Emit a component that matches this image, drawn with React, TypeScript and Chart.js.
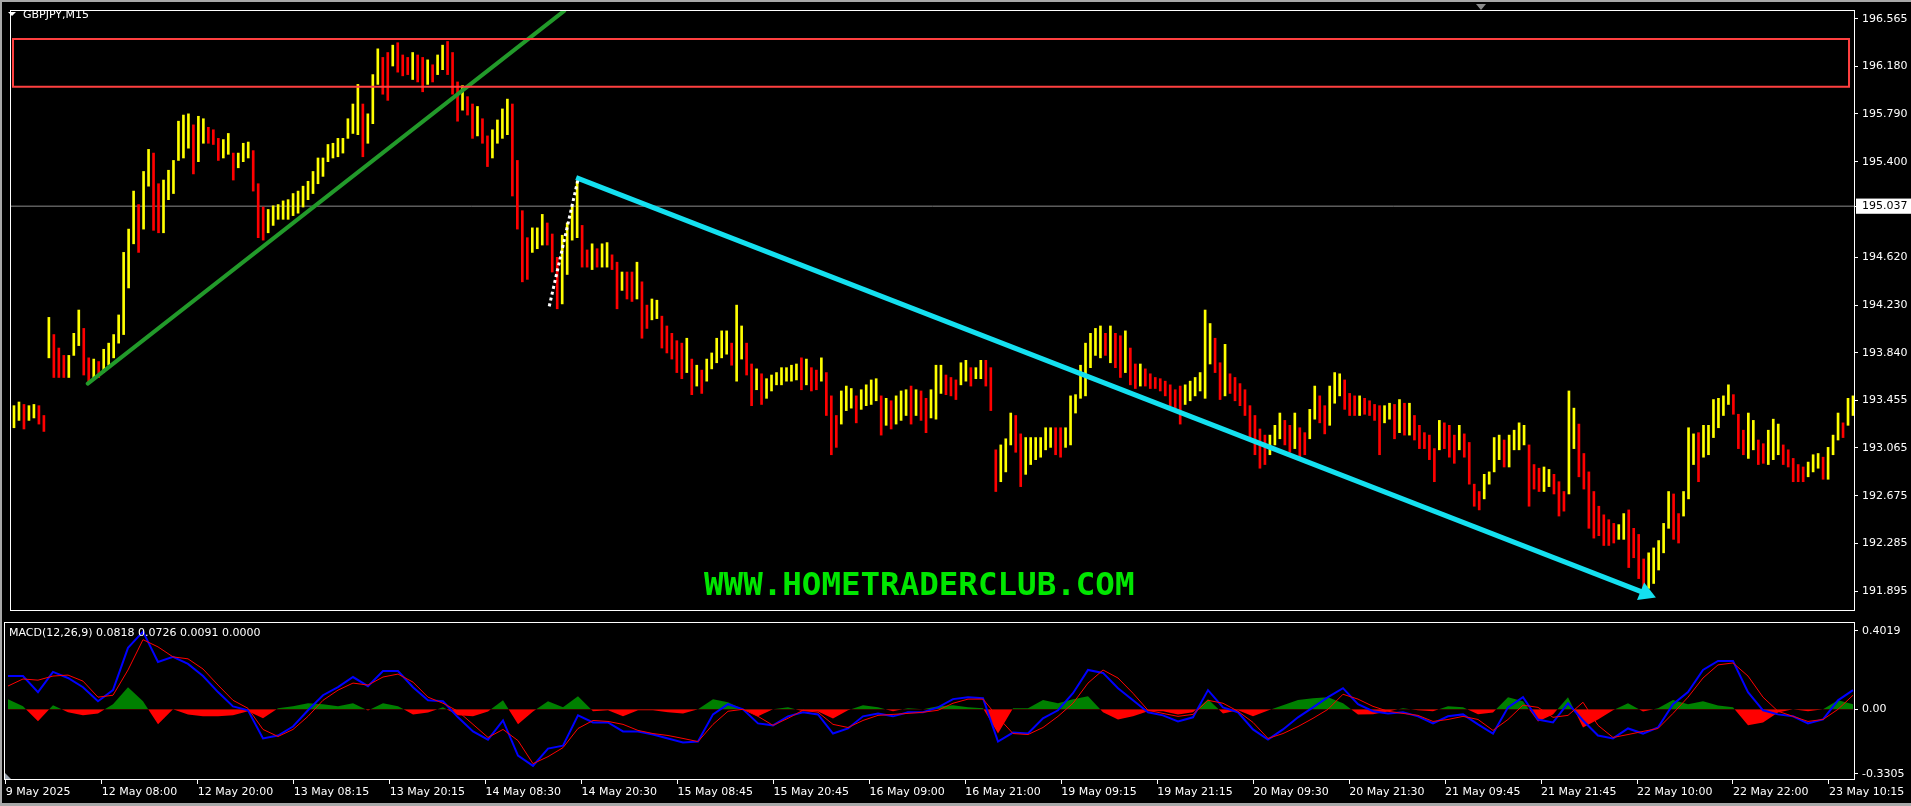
import React, { useEffect, useRef } from "react";
import { Chart, registerables } from "chart.js";

Chart.register(...registerables);

// ---------- price bars (GBPJPY M15), one entry per bar ----------
const barHighs: number[] = [
  193.41, 193.44, 193.42, 193.41, 193.42, 193.41, 193.33, 194.13, 193.99, 193.88,
  193.82, 193.82, 194.0, 194.19, 194.04, 193.8, 193.79, 193.77, 193.87, 193.92,
  193.99, 194.15, 194.66, 194.85, 195.16, 195.05, 195.32, 195.5, 195.47, 195.22,
  195.25, 195.33, 195.41, 195.73, 195.78, 195.79, 195.7, 195.77, 195.75, 195.68,
  195.66, 195.59, 195.58, 195.63, 195.47, 195.47, 195.55, 195.56, 195.49, 195.22,
  195.03, 195.01, 195.04, 195.05, 195.08, 195.09, 195.14, 195.16, 195.2, 195.24,
  195.32, 195.43, 195.43, 195.54, 195.55, 195.59, 195.59, 195.75, 195.87, 196.03,
  195.87, 195.79, 196.11, 196.32, 196.25, 196.29, 196.35, 196.37, 196.27, 196.25,
  196.29, 196.27, 196.25, 196.23, 196.19, 196.27, 196.35, 196.38, 196.29, 196.05,
  196.02, 195.93, 195.87, 195.85, 195.75, 195.61, 195.66, 195.74, 195.83, 195.91,
  195.87, 195.41, 195.0, 194.78, 194.86, 194.86, 194.97, 194.9, 194.81, 194.62,
  194.8, 194.9, 195.04, 195.24, 194.88, 194.68, 194.73, 194.69, 194.73, 194.74,
  194.64, 194.58, 194.5, 194.5, 194.5, 194.58, 194.42, 194.23, 194.28, 194.27,
  194.14, 194.06, 194.0, 193.94, 193.92, 193.96, 193.79, 193.74, 193.7, 193.79,
  193.84, 193.96, 194.02, 194.02, 193.92, 194.23, 194.06, 193.92, 193.75, 193.71,
  193.67, 193.63, 193.66, 193.68, 193.72, 193.72, 193.74, 193.75, 193.8, 193.79,
  193.72, 193.7, 193.8, 193.68, 193.49, 193.33, 193.53, 193.57, 193.55, 193.49,
  193.54, 193.58, 193.62, 193.63, 193.49, 193.47, 193.45, 193.49, 193.53, 193.54,
  193.57, 193.54, 193.53, 193.47, 193.54, 193.74, 193.74, 193.66, 193.64, 193.62,
  193.76, 193.78, 193.72, 193.72, 193.78, 193.78, 193.72, 193.05, 193.09, 193.14,
  193.35, 193.33, 193.18, 193.15, 193.15, 193.15, 193.15, 193.23, 193.23, 193.23,
  193.23, 193.23, 193.49, 193.5, 193.74, 193.92, 194.0, 194.04, 194.06, 194.0,
  194.06, 194.0, 193.98, 194.02, 193.88, 193.75, 193.75, 193.71, 193.67, 193.64,
  193.63, 193.61, 193.58, 193.54, 193.57, 193.58, 193.61, 193.64, 193.68, 194.19,
  194.08, 193.96, 193.76, 193.91, 193.67, 193.64, 193.59, 193.54, 193.41, 193.33,
  193.22, 193.17, 193.17, 193.25, 193.35, 193.29, 193.25, 193.35, 193.23, 193.19,
  193.38, 193.57, 193.49, 193.41, 193.57, 193.68, 193.67, 193.62, 193.51, 193.49,
  193.49, 193.47, 193.45, 193.42, 193.41, 193.41, 193.43, 193.42, 193.46, 193.43,
  193.43, 193.33, 193.25, 193.19, 193.17, 193.06, 193.29, 193.27, 193.25, 193.17,
  193.25, 193.18, 193.11, 192.77, 192.71, 192.85, 192.87, 193.15, 193.17, 193.13,
  193.17, 193.21, 193.27, 193.25, 193.09, 192.93, 192.9, 192.91, 192.89, 192.85,
  192.79, 192.71, 193.53, 193.39, 193.26, 193.02, 192.87, 192.71, 192.59, 192.52,
  192.48, 192.45, 192.44, 192.53, 192.56, 192.41, 192.36, 192.16, 192.21, 192.25,
  192.31, 192.45, 192.71, 192.69, 192.53, 192.71, 193.23, 193.18, 193.19, 193.25,
  193.25, 193.46, 193.47, 193.49, 193.58, 193.5, 193.34, 193.21, 193.35, 193.29,
  193.13, 193.1, 193.21, 193.3, 193.26, 193.09, 193.05, 192.98, 192.93, 192.91,
  192.95, 193.01, 193.02, 192.99, 193.07, 193.17, 193.35, 193.27, 193.47, 193.49,
];

const barLows: number[] = [
  193.23, 193.29, 193.22, 193.29, 193.31, 193.26, 193.2, 193.8, 193.64, 193.64,
  193.64, 193.64, 193.82, 193.9, 193.66, 193.59, 193.63, 193.64, 193.68, 193.74,
  193.8, 193.92, 193.99, 194.37, 194.73, 194.66, 194.85, 195.2, 194.84, 194.82,
  194.82, 195.09, 195.14, 195.41, 195.43, 195.51, 195.3, 195.4, 195.55, 195.55,
  195.54, 195.41, 195.43, 195.46, 195.25, 195.35, 195.4, 195.43, 195.16, 194.78,
  194.76, 194.82, 194.88, 194.93, 194.93, 194.93, 194.96, 194.98, 195.03, 195.09,
  195.14, 195.22, 195.28, 195.4, 195.43, 195.44, 195.47, 195.59, 195.63, 195.62,
  195.44, 195.55, 195.71, 196.03, 195.95, 195.9, 196.18, 196.13, 196.1, 196.11,
  196.07, 196.05, 195.97, 196.03, 196.05, 196.11, 196.15, 196.11, 195.95, 195.73,
  195.82, 195.78, 195.59, 195.61, 195.55, 195.36, 195.43, 195.55, 195.59, 195.62,
  195.12, 194.85, 194.42, 194.44, 194.66, 194.69, 194.72, 194.72, 194.5, 194.2,
  194.24, 194.48, 194.76, 194.78, 194.54, 194.54, 194.52, 194.54, 194.54, 194.54,
  194.52, 194.2, 194.35, 194.28, 194.26, 194.28, 193.96, 194.04, 194.11, 194.12,
  193.88, 193.84, 193.79, 193.68, 193.63, 193.68, 193.5, 193.57, 193.51, 193.61,
  193.71, 193.76, 193.8, 193.83, 193.74, 193.61, 193.79, 193.66, 193.41, 193.54,
  193.42, 193.47, 193.53, 193.58, 193.58, 193.61, 193.61, 193.62, 193.54, 193.58,
  193.53, 193.54, 193.61, 193.33, 193.01, 193.07, 193.26, 193.37, 193.39, 193.27,
  193.38, 193.41, 193.42, 193.45, 193.17, 193.25, 193.22, 193.26, 193.29, 193.33,
  193.26, 193.33, 193.29, 193.19, 193.31, 193.3, 193.51, 193.5, 193.49, 193.46,
  193.58, 193.61, 193.57, 193.63, 193.63, 193.57, 193.37, 192.71, 192.79, 192.87,
  193.09, 193.03, 192.75, 192.85, 192.93, 192.97, 192.99, 193.05, 193.07, 193.01,
  192.99, 193.07, 193.09, 193.35, 193.47, 193.49, 193.72, 193.82, 193.8, 193.82,
  193.76, 193.72, 193.64, 193.68, 193.58, 193.55, 193.57, 193.57, 193.55, 193.55,
  193.53, 193.49, 193.41, 193.38, 193.26, 193.42, 193.45, 193.49, 193.53, 193.47,
  193.75, 193.68, 193.46, 193.49, 193.51, 193.45, 193.41, 193.33, 193.13, 193.01,
  192.9, 192.93, 193.01, 193.09, 193.14, 193.09, 193.03, 193.06, 192.99, 193.01,
  193.14, 193.3, 193.27, 193.18, 193.25, 193.43, 193.49, 193.38, 193.33, 193.33,
  193.33, 193.34, 193.33, 193.29, 193.01, 193.27, 193.3, 193.14, 193.19, 193.17,
  193.17, 193.13, 193.06, 193.06, 192.97, 192.79, 193.05, 193.06, 192.99, 192.94,
  193.05, 192.99, 192.77, 192.59, 192.56, 192.65, 192.77, 192.87, 192.97, 192.91,
  192.91, 193.05, 193.05, 193.09, 192.59, 192.73, 192.71, 192.71, 192.75, 192.69,
  192.51, 192.55, 192.69, 193.06, 192.83, 192.73, 192.41, 192.33, 192.35, 192.27,
  192.27, 192.29, 192.32, 192.32, 192.09, 192.17, 192.0, 191.89, 191.92, 191.96,
  192.07, 192.21, 192.41, 192.32, 192.29, 192.51, 192.65, 192.93, 192.79, 192.99,
  193.01, 193.15, 193.23, 193.33, 193.42, 193.34, 193.06, 193.01, 192.98, 193.05,
  192.93, 192.94, 192.93, 192.97, 193.01, 192.93, 192.91, 192.79, 192.79, 192.79,
  192.83, 192.87, 192.9, 192.81, 192.81, 193.01, 193.13, 193.15, 193.25, 193.33,
];

// ---------- MACD(12,26,9), one sample every macdStep bars ----------
const macdStep = 3;
const macdMain: number[] = [
  0.17, 0.17, 0.088, 0.191, 0.16, 0.113, 0.041, 0.098, 0.314, 0.397,
  0.242, 0.268, 0.232, 0.17, 0.088, 0.015, -0.005, -0.149, -0.134, -0.088,
  -0.005, 0.072, 0.113, 0.165, 0.118, 0.196, 0.196, 0.113, 0.046, 0.041,
  -0.041, -0.113, -0.155, -0.057, -0.237, -0.289, -0.201, -0.186, -0.031, -0.067,
  -0.067, -0.113, -0.113, -0.129, -0.149, -0.17, -0.165, -0.026, 0.026, 0.0,
  -0.072, -0.082, -0.036, -0.015, -0.026, -0.124, -0.098, -0.036, -0.021, -0.036,
  -0.015, -0.015, 0.01, 0.052, 0.062, 0.057, -0.165, -0.119, -0.124, -0.046,
  -0.005, 0.082, 0.201, 0.186, 0.108, 0.046, -0.015, -0.031, -0.062, -0.041,
  0.098, 0.01, -0.015, -0.103, -0.155, -0.103, -0.041, 0.01, 0.062, 0.108,
  0.026, -0.01, -0.021, -0.015, -0.036, -0.072, -0.036, -0.026, -0.077, -0.124,
  0.01, 0.062, -0.052, -0.067, 0.031, -0.057, -0.134, -0.149, -0.098, -0.124,
  -0.093, 0.026, 0.088, 0.201, 0.247, 0.247, 0.088, -0.005, -0.026, -0.036,
  -0.072, -0.052, 0.046, 0.098,
];
const macdSignal: number[] = [
  0.119, 0.155, 0.149, 0.17, 0.175, 0.144, 0.062, 0.072, 0.201, 0.356,
  0.319, 0.268, 0.258, 0.206, 0.124, 0.046, 0.005, -0.103, -0.139, -0.103,
  -0.036, 0.046, 0.098, 0.134, 0.124, 0.165, 0.18, 0.139, 0.062, 0.031,
  -0.01, -0.077, -0.144, -0.103, -0.16, -0.278, -0.242, -0.196, -0.098, -0.057,
  -0.062, -0.077, -0.108, -0.124, -0.134, -0.149, -0.165, -0.077, -0.01, 0.0,
  -0.036, -0.082, -0.046, -0.005, -0.015, -0.077, -0.093, -0.057, -0.031, -0.026,
  -0.021, -0.015, -0.005, 0.031, 0.052, 0.052, -0.041, -0.124, -0.129, -0.093,
  -0.036, 0.031, 0.134, 0.201, 0.16, 0.082, -0.005, -0.021, -0.036, -0.026,
  0.046, 0.031, -0.01, -0.067, -0.149, -0.124, -0.088, -0.046, 0.0, 0.077,
  0.052, 0.015, -0.01, -0.021, -0.031, -0.062, -0.052, -0.036, -0.052, -0.108,
  -0.052, 0.021, 0.01, -0.041, -0.031, 0.036, -0.082, -0.144, -0.129, -0.113,
  -0.098, -0.021, 0.062, 0.16, 0.227, 0.237, 0.17, 0.062, -0.01, -0.036,
  -0.062, -0.052, 0.0, 0.072,
];

// ---------- axes ----------
const priceTicks = [196.565, 196.18, 195.79, 195.4, 195.037, 194.62, 194.23, 193.84, 193.455, 193.065, 192.675, 192.285, 191.895];
const currentPrice = 195.037;
const macdTicks = [0.4019, 0, -0.3305];
const macdTickLabels = ["0.4019", "0.00", "-0.3305"];
const timeLabels = [
  "9 May 2025", "12 May 08:00", "12 May 20:00", "13 May 08:15", "13 May 20:15",
  "14 May 08:30", "14 May 20:30", "15 May 08:45", "15 May 20:45", "16 May 09:00",
  "16 May 21:00", "19 May 09:15", "19 May 21:15", "20 May 09:30", "20 May 21:30",
  "21 May 09:45", "21 May 21:45", "22 May 10:00", "22 May 22:00", "23 May 10:15",
];
const timeTickBars = [
  -0.43, 18.76, 37.95, 57.14, 76.33, 95.52, 114.71, 133.9, 153.09, 172.28,
  191.47, 210.66, 229.85, 249.04, 268.23, 287.42, 306.61, 325.8, 344.99, 364.18,
];

// ---------- drawn objects (bar index, price) ----------
const zoneTop = 196.4;
const zoneBottom = 196.01;
const zoneStart = -0.2;
const zoneEnd = 368.2;
const trendLine = [{ x: 14.8, y: 193.59 }, { x: 110.4, y: 196.63 }];
const arrowLine = [{ x: 112.8, y: 195.27 }, { x: 327.4, y: 191.88 }];
const dottedLine = [{ x: 107.4, y: 194.22 }, { x: 113.2, y: 195.26 }];

const X_MIN = -0.6;
const X_MAX = 369.2;
const FONT = { family: "'DejaVu Sans', sans-serif", size: 11 };

const framePlugin = {
  id: "frame",
  afterDraw(chart: any) {
    const { ctx, chartArea: a } = chart;
    ctx.save();
    ctx.strokeStyle = "#ffffff";
    ctx.lineWidth = 1;
    ctx.strokeRect(a.left - 0.5, a.top - 0.5, a.right - a.left + 1, a.bottom - a.top + 1);
    ctx.restore();
  },
};

export default function App() {
  const mainRef = useRef<HTMLCanvasElement | null>(null);
  const macdRef = useRef<HTMLCanvasElement | null>(null);

  useEffect(() => {
    document.body.style.margin = "0";
    document.body.style.background = "#000";

    const mids = barHighs.map((h, i) => (h + barLows[i]) / 2);
    const barColors = mids.map((m, i) => (i === 0 || m >= mids[i - 1] ? "#ffff00" : "#ff0000"));
    const bars = barHighs.map((h, i) => ({ x: i, y: [barLows[i], h] }));
    const zone = [
      { x: zoneStart, y: zoneTop },
      { x: zoneEnd, y: zoneTop },
      { x: zoneEnd, y: zoneBottom },
      { x: zoneStart, y: zoneBottom },
      { x: zoneStart, y: zoneTop },
    ];
    const bidLine = [{ x: X_MIN, y: currentPrice }, { x: X_MAX, y: currentPrice }];

    const main = new Chart(mainRef.current as HTMLCanvasElement, {
      type: "bar",
      data: {
        datasets: [
          { type: "line", data: zone, borderColor: "#ff4040", borderWidth: 2, pointRadius: 0, order: 0, clip: 0, borderJoinStyle: "miter", borderCapStyle: "square" } as any,
          { type: "line", data: trendLine, borderColor: "#229a2a", borderWidth: 4, pointRadius: 0, order: 0, clip: 0, borderCapStyle: "round" } as any,
          { type: "line", data: dottedLine, borderColor: "#ffffff", borderWidth: 3, borderDash: [3, 3], pointRadius: 0, order: 0, clip: 0 } as any,
          {
            type: "line", data: arrowLine, borderColor: "#14e0f0", borderWidth: 5, order: 0, clip: 0,
            pointRadius: [0, 11], pointStyle: "triangle", pointRotation: [0, 112],
            pointBackgroundColor: "#14e0f0", pointBorderWidth: 0, pointBorderColor: "#14e0f0",
          } as any,
          { type: "bar", data: bars, backgroundColor: barColors, barThickness: 2, borderWidth: 0, order: 1 } as any,
          { type: "line", data: bidLine, borderColor: "#8c8c8c", borderWidth: 1, pointRadius: 0, order: 2, clip: 0 } as any,
        ],
      },
      options: {
        responsive: false,
        animation: false,
        devicePixelRatio: 1,
        events: [],
        layout: { padding: { left: 5, top: 5, right: 0, bottom: 2 } },
        plugins: { legend: { display: false }, tooltip: { enabled: false } },
        scales: {
          x: { type: "linear", min: X_MIN, max: X_MAX, display: false, offset: false },
          y: {
            type: "linear",
            position: "right",
            min: 191.7438,
            max: 196.6286,
            afterBuildTicks: (s: any) => { s.ticks = priceTicks.map((v) => ({ value: v })); },
            afterFit: (s: any) => { s.width = 57; s.paddingTop = 0; s.paddingBottom = 0; },
            grid: { drawOnChartArea: false, drawTicks: true, tickLength: 4, color: "#ffffff" },
            border: { display: false },
            ticks: {
              padding: 4,
              autoSkip: false,
              font: FONT,
              color: (c: any) => (c.tick && c.tick.value === currentPrice ? "#000000" : "#ffffff"),
              showLabelBackdrop: (c: any) => !!(c.tick && c.tick.value === currentPrice),
              backdropColor: "#ffffff",
              backdropPadding: { left: 6, right: 6, top: 1, bottom: 1 },
              callback: (v: any) => Number(v).toFixed(3),
            },
          },
        },
      } as any,
      plugins: [framePlugin],
    });

    const pts = (arr: number[]) => arr.map((v, k) => ({ x: k * macdStep, y: v }));
    const hist = macdMain.map((v, k) => ({ x: k * macdStep, y: v - macdSignal[k] }));

    const macd = new Chart(macdRef.current as HTMLCanvasElement, {
      type: "line",
      data: {
        datasets: [
          { data: pts(macdSignal), borderColor: "#ff0000", borderWidth: 1, pointRadius: 0, order: 0, tension: 0 } as any,
          { data: pts(macdMain), borderColor: "#0000ff", borderWidth: 2, pointRadius: 0, order: 1, tension: 0 } as any,
          {
            data: hist, borderColor: "rgba(0,0,0,0)", borderWidth: 0, pointRadius: 0, order: 2, tension: 0,
            fill: { target: "origin", above: "#008000", below: "#ff0000" },
          } as any,
        ],
      },
      options: {
        responsive: false,
        animation: false,
        devicePixelRatio: 1,
        events: [],
        layout: { padding: { left: 5, top: 2, right: 0, bottom: 0 } },
        plugins: { legend: { display: false }, tooltip: { enabled: false } },
        scales: {
          x: {
            type: "linear",
            position: "bottom",
            min: X_MIN,
            max: X_MAX,
            offset: false,
            afterBuildTicks: (s: any) => { s.ticks = timeTickBars.map((v) => ({ value: v })); },
            afterFit: (s: any) => { s.height = 27; s.paddingLeft = 0; s.paddingRight = 0; },
            grid: { drawOnChartArea: false, drawTicks: true, tickLength: 5, color: "#ffffff" },
            border: { display: false },
            ticks: {
              autoSkip: false, maxRotation: 0, minRotation: 0, align: "start", padding: 2,
              color: "#ffffff", font: FONT,
              callback: (_v: any, i: number) => timeLabels[i],
            },
          },
          y: {
            type: "linear",
            position: "right",
            min: -0.3563,
            max: 0.4412,
            afterBuildTicks: (s: any) => { s.ticks = macdTicks.map((v) => ({ value: v })); },
            afterFit: (s: any) => { s.width = 57; s.paddingTop = 0; s.paddingBottom = 0; },
            grid: { drawOnChartArea: false, drawTicks: true, tickLength: 4, color: "#ffffff" },
            border: { display: false },
            ticks: {
              padding: 4, autoSkip: false, color: "#ffffff", font: FONT,
              callback: (_v: any, i: number) => macdTickLabels[i],
            },
          },
        },
      } as any,
      plugins: [framePlugin],
    });

    return () => {
      main.destroy();
      macd.destroy();
    };
  }, []);

  const textBase: React.CSSProperties = {
    position: "absolute",
    fontFamily: "'DejaVu Sans', sans-serif",
    fontSize: 11,
    lineHeight: "13px",
    color: "#ffffff",
    whiteSpace: "nowrap",
  };

  return (
    <div style={{ position: "fixed", left: 0, top: 0, width: 1911, height: 806, background: "#000", overflow: "hidden" }}>
      <canvas ref={mainRef} width={1911} height={621} style={{ position: "absolute", left: 0, top: 0 }} />
      <canvas ref={macdRef} width={1911} height={185} style={{ position: "absolute", left: 0, top: 621 }} />
      <div style={{ position: "absolute", left: 0, top: 0, width: 1911, height: 2, background: "#a8a8a8" }} />
      <div style={{ position: "absolute", left: 0, top: 0, width: 2, height: 806, background: "#a8a8a8" }} />
      <div style={{ position: "absolute", left: 0, top: 803, width: 1911, height: 3, background: "#a8a8a8" }} />
      <div style={{ position: "absolute", left: 8, top: 12, width: 0, height: 0, borderLeft: "4px solid transparent", borderRight: "4px solid transparent", borderTop: "4px solid #ffffff" }} />
      <div style={{ ...textBase, left: 23, top: 8 }}>GBPJPY,M15</div>
      <div style={{ position: "absolute", left: 1476, top: 4, width: 0, height: 0, borderLeft: "5px solid transparent", borderRight: "5px solid transparent", borderTop: "6px solid #8a8a8a" }} />
      <div style={{ ...textBase, left: 9, top: 626 }}>MACD(12,26,9) 0.0818 0.0726 0.0091 0.0000</div>
      <div style={{ position: "absolute", left: 5, top: 773, width: 0, height: 0, borderBottom: "6px solid #9aa4b0", borderRight: "6px solid transparent" }} />
      <div
        style={{
          position: "absolute",
          left: 704,
          top: 568,
          fontFamily: "'DejaVu Sans Mono', monospace",
          fontWeight: "bold",
          fontSize: 32.5,
          lineHeight: "33px",
          color: "#00e600",
          whiteSpace: "nowrap",
        }}
      >
        WWW.HOMETRADERCLUB.COM
      </div>
    </div>
  );
}
